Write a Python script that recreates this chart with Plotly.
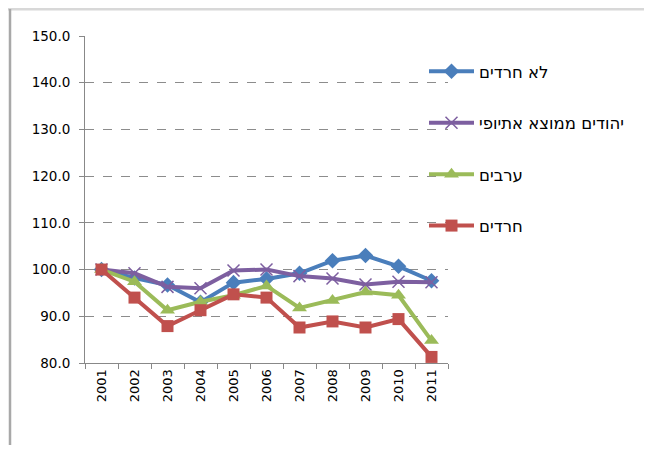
import plotly.graph_objects as go

years = ["2001", "2002", "2003", "2004", "2005", "2006", "2007", "2008", "2009", "2010", "2011"]
non_haredi = [100.0, 98.2, 96.7, 93.0, 97.2, 98.0, 99.2, 101.9, 103.0, 100.7, 97.6]
ethiopian = [100.0, 99.2, 96.3, 96.0, 99.8, 100.0, 98.6, 98.1, 96.8, 97.4, 97.3]
arabs = [100.0, 97.4, 91.3, 93.1, 94.5, 96.5, 91.8, 93.4, 95.2, 94.5, 84.8]
haredi = [100.0, 94.0, 87.9, 91.3, 94.7, 94.0, 87.6, 88.9, 87.6, 89.4, 81.3]

names = ["לא חרדים", "יהודים ממוצא אתיופי", "ערבים", "חרדים"]
colors = ["#4A7EBB", "#7D5FA0", "#9BBB59", "#C0504D"]

fig = go.Figure()
fig.add_trace(go.Scatter(x=years, y=non_haredi, name=names[0], mode="lines+markers",
                         line=dict(color=colors[0], width=4),
                         marker=dict(symbol="diamond", size=12, color=colors[0]),
                         legendgroup="a"))
fig.add_trace(go.Scatter(x=years, y=ethiopian, name=names[1], mode="lines+markers",
                         line=dict(color=colors[1], width=4),
                         marker=dict(symbol="x-thin", size=12, color=colors[1],
                                     line=dict(color=colors[1], width=1.5)),
                         legendgroup="b"))
fig.add_trace(go.Scatter(x=years, y=arabs, name=names[2], mode="lines+markers",
                         line=dict(color=colors[2], width=4),
                         marker=dict(symbol="triangle-up", size=13, color=colors[2]),
                         legendgroup="c"))
fig.add_trace(go.Scatter(x=years, y=haredi, name=names[3], mode="lines+markers",
                         line=dict(color=colors[3], width=4),
                         marker=dict(symbol="square", size=12, color=colors[3]),
                         legendgroup="d"))

# page body has an 8px margin on every side; work in figure coordinates
OFF = 8
W, H = 652 - 2 * OFF, 453 - 2 * OFF
L, T = 85 - OFF, 36 - OFF
R = W - (448 - OFF)
B = H - (363 - OFF)
pw, ph = W - L - R, H - T - B

def px(x):
    return (x - OFF - L) / pw

def py(y):
    return (H - B - (y - OFF)) / ph

fig.update_layout(
    width=W, height=H,
    margin=dict(l=L, r=R, t=T, b=B, autoexpand=False),
    paper_bgcolor="white", plot_bgcolor="white",
    font=dict(family="DejaVu Sans", size=13, color="black"),
    showlegend=True,
    legend=dict(x=px(424), y=py(54), xanchor="left", yanchor="top",
                bgcolor="rgba(0,0,0,0)", font=dict(size=16.5),
                traceorder="grouped", tracegroupgap=27, itemwidth=45),
    xaxis=dict(type="category", range=[-0.5, 10.5], tickangle=-90,
               showline=True, linecolor="#888888", linewidth=1,
               ticks="outside", tickson="boundaries", ticklen=5, tickcolor="#888888",
               showgrid=False, tickfont=dict(size=13)),
    yaxis=dict(range=[80, 150], dtick=10, tick0=80, tickformat=".1f",
               showline=True, linecolor="#888888", linewidth=1,
               ticks="outside", ticklen=5, tickcolor="#888888",
               ticklabelstandoff=6,
               showgrid=True, gridcolor="#8C8C8C", griddash="dash", gridwidth=1,
               zeroline=False, tickfont=dict(size=13.5)),
    shapes=[
        dict(type="line", xref="paper", yref="paper", x0=px(8), x1=px(652), y0=py(9), y1=py(9),
             line=dict(color="#D8D8D8", width=3)),
        dict(type="line", xref="paper", yref="paper", x0=px(10), x1=px(10), y0=py(9), y1=py(453),
             line=dict(color="#A8A8A8", width=2.5)),
    ],
)

fig.write_html("out.html")
